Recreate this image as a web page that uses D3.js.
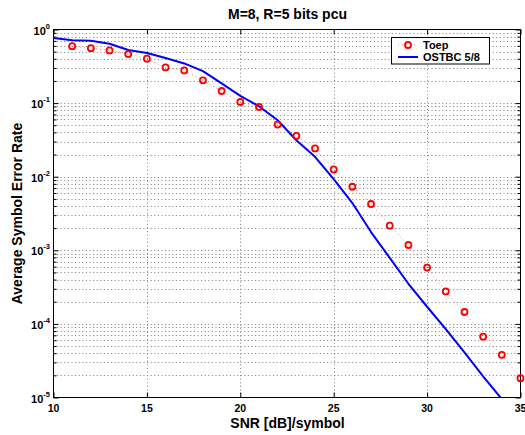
<!DOCTYPE html>
<html>
<head>
<meta charset="utf-8">
<script src="https://cdn.jsdelivr.net/npm/d3@7"></script>
<style>
html,body{margin:0;padding:0;background:#fff;}
svg{display:block;font-family:"Liberation Sans",Arial,Helvetica,sans-serif;font-weight:bold;}
</style>
</head>
<body>
<svg id="chart" width="525" height="435"></svg>
<script>
// ---- data ----
const snrToep = [11,12,13,14,15,16,17,18,19,20,21,22,23,24,25,26,27,28,29,30,31,32,33,34,35];
const serToep = [0.594,0.558,0.519,0.463,0.401,0.305,0.278,0.204,0.146,0.1035,0.0886,0.0511,0.0358,0.0242,0.01256,0.0073,0.00426,0.00216,0.00118,0.000583,0.000276,0.000145,6.7e-5,3.8e-5,1.83e-5];
const snrOstbc = [10,11,12,13,14,15,16,17,18,19,20,21,22,23,24,25,26,27,28,29,30,31,32,33,34];
const serOstbc = [0.767,0.716,0.703,0.64,0.527,0.48,0.411,0.346,0.272,0.185,0.1256,0.0905,0.0585,0.0313,0.0186,0.00927,0.00439,0.00177,0.000788,0.000351,0.000171,8.48e-5,4.11e-5,1.93e-5,9.5e-6];
const xTicks = [10,15,20,25,30,35];
const yDecades = [1e0,1e-1,1e-2,1e-3,1e-4,1e-5];
const yExponents = ["0","-1","-2","-3","-4","-5"];
const seriesNames = ["Toep","OSTBC 5/8"];
const titleText = "M=8, R=5 bits pcu";
const xLabel = "SNR [dB]/symbol";
const yLabel = "Average Symbol Error Rate";

// ---- layout ----
const L = 53.5, R = 520.5, T = 29.5, B = 397.5;
const svg = d3.select("#chart");
const x = d3.scaleLinear().domain([10,35]).range([L,R]);
const y = d3.scaleLog().domain([1e-5,1]).range([B,T]);

// minor values
const minor = [];
for (let e=-5;e<0;e++) for (let m=2;m<=9;m++) minor.push(m*Math.pow(10,e));

// grid
const grid = svg.append("g").attr("stroke","#7c7c7c").attr("stroke-width",1).attr("stroke-dasharray","1,2.6");
grid.selectAll("line.h").data(yDecades.concat(minor).filter(v=>v<1&&v>1e-5)).join("line")
  .attr("x1",L).attr("x2",R).attr("y1",d=>Math.round(y(d))+0.5).attr("y2",d=>Math.round(y(d))+0.5);
grid.selectAll("line.v").data(xTicks.filter(v=>v>10&&v<35)).join("line")
  .attr("y1",T).attr("y2",B).attr("x1",d=>Math.round(x(d))+0.5).attr("x2",d=>Math.round(x(d))+0.5);

// axes (ticks inward)
const ax = svg.append("g");
function styleAxis(g){ g.select(".domain").remove(); g.selectAll("line").attr("stroke","#000"); g.selectAll("text").remove(); }
ax.append("g").attr("transform",`translate(0,${B})`).call(d3.axisBottom(x).tickValues(xTicks).tickSize(-5)).call(styleAxis);
ax.append("g").attr("transform",`translate(0,${T})`).call(d3.axisTop(x).tickValues(xTicks).tickSize(-5)).call(styleAxis);
ax.append("g").attr("transform",`translate(${L},0)`).call(d3.axisLeft(y).tickValues(yDecades).tickSize(-5)).call(styleAxis);
ax.append("g").attr("transform",`translate(${R},0)`).call(d3.axisRight(y).tickValues(yDecades).tickSize(-5)).call(styleAxis);
ax.append("g").attr("transform",`translate(${L},0)`).call(d3.axisLeft(y).tickValues(minor).tickSize(-3)).call(styleAxis);
ax.append("g").attr("transform",`translate(${R},0)`).call(d3.axisRight(y).tickValues(minor).tickSize(-3)).call(styleAxis);

// box
svg.append("rect").attr("x",L).attr("y",T).attr("width",R-L).attr("height",B-T)
  .attr("fill","none").attr("stroke","#000").attr("stroke-width",1);

// tick labels
svg.append("g").selectAll("text").data(xTicks).join("text")
  .attr("x",d=>x(d)).attr("y",412).attr("text-anchor","middle").attr("font-size",10.5).text(d=>d);
const yl = svg.append("g").selectAll("text").data(yDecades).join("text")
  .attr("x",50).attr("y",d=>y(d)+5).attr("text-anchor","end").attr("font-size",11);
yl.append("tspan").text("10");
yl.append("tspan").attr("dy",-6).attr("font-size",7.5).text((d,i)=>yExponents[i]);

// clip
svg.append("clipPath").attr("id","clip").append("rect").attr("x",L).attr("y",T).attr("width",R-L).attr("height",B-T);

// OSTBC line
const line = d3.line().x(d=>x(d[0])).y(d=>y(d[1]));
svg.append("path").datum(snrOstbc.map((s,i)=>[s,serOstbc[i]]))
  .attr("clip-path","url(#clip)").attr("d",line).attr("fill","none")
  .attr("stroke","#0000ff").attr("stroke-width",2).attr("stroke-linejoin","round");

// Toep dotted line + markers
const toepData = snrToep.map((s,i)=>[s,serToep[i]]);
svg.append("path").datum(toepData).attr("d",line).attr("fill","none")
  .attr("stroke","#ff0000").attr("stroke-opacity",0.55).attr("stroke-width",1).attr("stroke-dasharray","1,3");
svg.append("g").selectAll("circle").data(toepData).join("circle")
  .attr("cx",d=>x(d[0])).attr("cy",d=>y(d[1])).attr("r",3)
  .attr("fill","none").attr("stroke","#ff0000").attr("stroke-width",1.8);

// legend
const lg = svg.append("g");
lg.append("rect").attr("x",391.5).attr("y",37.5).attr("width",98).attr("height",26.5)
  .attr("fill","#fff").attr("stroke","#000").attr("stroke-width",1);
lg.append("line").attr("x1",398).attr("x2",418).attr("y1",45).attr("y2",45)
  .attr("stroke","#ff0000").attr("stroke-opacity",0.55).attr("stroke-dasharray","1,3");
lg.append("circle").attr("cx",408).attr("cy",45).attr("r",3).attr("fill","none").attr("stroke","#ff0000").attr("stroke-width",1.8);
lg.append("line").attr("x1",398).attr("x2",418).attr("y1",57).attr("y2",57).attr("stroke","#0000ff").attr("stroke-width",2);
lg.selectAll("text").data(seriesNames).join("text").attr("x",423).attr("y",(d,i)=>49+i*12)
  .attr("font-size",11).text(d=>d);

// titles
svg.append("text").attr("x",287.5).attr("y",19).attr("text-anchor","middle").attr("font-size",14).text(titleText);
svg.append("text").attr("x",287.5).attr("y",428).attr("text-anchor","middle").attr("font-size",14).text(xLabel);
svg.append("text").attr("transform",`translate(22,${(T+B)/2}) rotate(-90)`).attr("text-anchor","middle").attr("font-size",14).text(yLabel);
</script>
</body>
</html>
